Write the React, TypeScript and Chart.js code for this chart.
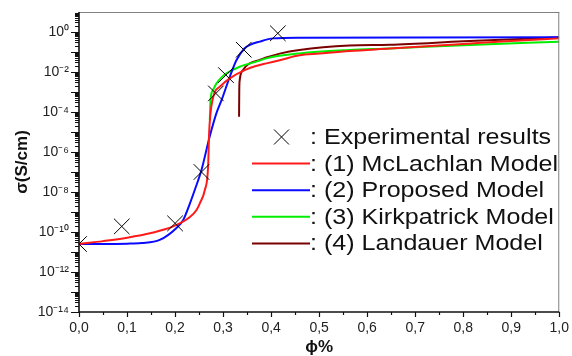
import React, { useEffect, useRef } from 'react';
import { Chart, registerables } from 'chart.js';

Chart.register(...registerables);

// ---- axis ticks ----
const xTickValues = [0, 0.1, 0.2, 0.3, 0.4, 0.5, 0.6, 0.7, 0.8, 0.9, 1.0];
const xTickLabels = ['0,0', '0,1', '0,2', '0,3', '0,4', '0,5', '0,6', '0,7', '0,8', '0,9', '1,0'];
const xMinorTicks = [0.05, 0.15, 0.25, 0.35, 0.45, 0.55, 0.65, 0.75, 0.85, 0.95];
const yTickValues = [1e-14, 1e-12, 1e-10, 1e-8, 1e-6, 1e-4, 1e-2, 1];
const yTickLabels = ['10⁻¹⁴', '10⁻¹²', '10⁻¹⁰', '10⁻⁸', '10⁻⁶', '10⁻⁴', '10⁻²', '10⁰'];

// ---- experimental results ----
const expPhi = [0, 0.089, 0.2, 0.255, 0.285, 0.306, 0.343, 0.414];
const expSigma = [2.5e-11, 1.9e-10, 2.7e-10, 1e-7, 8.5e-4, 7e-3, 0.13, 0.86];

// ---- (1) McLachlan model ----
const mclPhi = [0, 0.05, 0.1, 0.15, 0.196, 0.231, 0.2447, 0.2516, 0.262, 0.2688, 0.2709, 0.2738, 0.278, 0.2827, 0.2931, 0.3139, 0.3486, 0.3763, 0.39, 0.42, 0.459, 0.5, 0.563, 0.647, 0.8, 0.9, 1.0];
const mclSigma = [2.5e-11, 3.5e-11, 5.2e-11, 8.9e-11, 1.9e-10, 5.6e-10, 1.26e-9, 2.7e-9, 1.26e-8, 1.84e-7, 8.6e-6, 8.6e-5, 4e-4, 1e-3, 1.84e-3, 4.8e-3, 1.36e-2, 2.24e-2, 2.7e-2, 4e-2, 6.8e-2, 8.3e-2, 0.112, 0.148, 0.25, 0.355, 0.48];

// ---- (2) Proposed model ----
const propPhi = [0, 0.05, 0.1, 0.13, 0.168, 0.203, 0.217, 0.231, 0.241, 0.255, 0.272, 0.286, 0.297, 0.314, 0.328, 0.345, 0.355, 0.376, 0.404, 0.46, 0.7, 1.0];
const propSigma = [2.5e-11, 2.5e-11, 2.6e-11, 2.8e-11, 4e-11, 1.6e-10, 4e-10, 2.7e-9, 1.26e-8, 1.26e-7, 5.8e-6, 8.6e-5, 4e-4, 5.8e-3, 4e-2, 0.153, 0.22, 0.33, 0.48, 0.52, 0.53, 0.54];

// ---- (3) Kirkpatrick model ----
const kirkPhi = [0.2723, 0.2738, 0.2792, 0.2863, 0.2967, 0.3071, 0.3347, 0.3694, 0.39, 0.459, 0.563, 0.647, 0.8, 1.0];
const kirkSigma = [4e-5, 4e-4, 1.26e-3, 2.7e-3, 5.4e-3, 8.6e-3, 1.84e-2, 3.3e-2, 4.8e-2, 8.5e-2, 0.126, 0.15, 0.22, 0.33];

// ---- (4) Landauer model ----
const landPhi = [0.3333, 0.3337, 0.3347, 0.3416, 0.3555, 0.3763, 0.39, 0.418, 0.459, 0.563, 0.647, 0.8, 1.0];
const landSigma = [5.8e-5, 1.26e-3, 4e-3, 1.26e-2, 2.7e-2, 4e-2, 5.3e-2, 8.3e-2, 0.126, 0.21, 0.23, 0.34, 0.54];

const legendLabels = [': Experimental results', ': (1) McLachlan Model', ': (2) Proposed Model', ': (3) Kirkpatrick Model', ': (4) Landauer Model'];
const seriesColors = ['#000000', '#ff1a1a', '#0a0aff', '#00ee00', '#7a0000'];

const FONT = '"Liberation Sans", Arial, sans-serif';

const pts = (xs: number[], ys: number[]) => xs.map((x, i) => ({ x, y: ys[i] }));

const framePlugin = {
  id: 'framePlugin',
  afterDraw(chart: any) {
    const { ctx, chartArea: a, scales } = chart;
    const xs = scales.x;
    const ys = scales.y;
    ctx.save();
    // top & right frame
    ctx.strokeStyle = '#808080';
    ctx.lineWidth = 1;
    ctx.beginPath();
    ctx.moveTo(a.left, a.top + 0.5);
    ctx.lineTo(a.right, a.top + 0.5);
    ctx.moveTo(a.right - 0.5, a.top);
    ctx.lineTo(a.right - 0.5, a.bottom);
    ctx.stroke();
    // axes lines
    ctx.strokeStyle = '#111';
    ctx.lineWidth = 1.6;
    ctx.beginPath();
    ctx.moveTo(a.left, a.top);
    ctx.lineTo(a.left, a.bottom);
    ctx.lineTo(a.right, a.bottom);
    ctx.stroke();
    // x ticks
    ctx.lineWidth = 1.2;
    ctx.beginPath();
    xTickValues.forEach((v) => {
      const p = Math.round(xs.getPixelForValue(v)) + 0.5;
      ctx.moveTo(p, a.bottom);
      ctx.lineTo(p, a.bottom + 5);
    });
    xMinorTicks.forEach((v) => {
      const p = Math.round(xs.getPixelForValue(v)) + 0.5;
      ctx.moveTo(p, a.bottom);
      ctx.lineTo(p, a.bottom + 3);
    });
    ctx.stroke();
    // y ticks (decades + minor)
    ctx.lineWidth = 1;
    ctx.beginPath();
    for (let e = -14; e <= 0; e++) {
      for (let k = 1; k <= 9; k++) {
        const v = k * Math.pow(10, e);
        const p = Math.round(ys.getPixelForValue(v)) + 0.5;
        const len = k === 1 ? 8 : 4;
        ctx.moveTo(a.left - len, p);
        ctx.lineTo(a.left, p);
      }
    }
    ctx.stroke();

    // legend
    const lx0 = 252;
    const lx1 = 310;
    const ly0 = 137;
    const dy = 26.6;
    legendLabels.forEach((t, i) => {
      const yy = ly0 + i * dy;
      if (i === 0) {
        const cx = 281.5;
        const r = 7.5;
        ctx.strokeStyle = '#000';
        ctx.lineWidth = 1;
        ctx.beginPath();
        ctx.moveTo(cx - r, yy - r);
        ctx.lineTo(cx + r, yy + r);
        ctx.moveTo(cx + r, yy - r);
        ctx.lineTo(cx - r, yy + r);
        ctx.stroke();
      } else {
        ctx.strokeStyle = seriesColors[i];
        ctx.lineWidth = 2;
        ctx.beginPath();
        ctx.moveTo(lx0, yy);
        ctx.lineTo(lx1, yy);
        ctx.stroke();
      }
      ctx.save();
      ctx.translate(lx1, yy);
      ctx.scale(1.14, 1);
      ctx.fillStyle = '#111';
      ctx.font = '22px ' + FONT;
      ctx.textBaseline = 'middle';
      ctx.textAlign = 'left';
      ctx.fillText(t, 0, 1);
      ctx.restore();
    });
    ctx.restore();
  },
};

export default function App() {
  const ref = useRef<HTMLCanvasElement | null>(null);
  useEffect(() => {
    if (!ref.current) return;
    const lineDs = (label: string, xs: number[], ys: number[], color: string) => ({
      label,
      data: pts(xs, ys),
      borderColor: color,
      backgroundColor: color,
      borderWidth: 2,
      pointRadius: 0,
      fill: false,
      cubicInterpolationMode: 'monotone' as const,
    });
    const chart = new Chart(ref.current, {
      type: 'line',
      data: {
        datasets: [
          {
            label: 'Experimental results',
            data: pts(expPhi, expSigma),
            showLine: false,
            pointStyle: 'crossRot',
            pointRadius: 11,
            pointBorderWidth: 1,
            borderColor: '#000',
            backgroundColor: '#000',
            clip: 0,
          } as any,
          lineDs('(1) McLachlan Model', mclPhi, mclSigma, seriesColors[1]),
          lineDs('(2) Proposed Model', propPhi, propSigma, seriesColors[2]),
          lineDs('(3) Kirkpatrick Model', kirkPhi, kirkSigma, seriesColors[3]),
          lineDs('(4) Landauer Model', landPhi, landSigma, seriesColors[4]),
        ],
      },
      options: {
        animation: false,
        responsive: false,
        maintainAspectRatio: false,
        layout: { padding: { top: 12, right: 12, left: 0, bottom: 0 } },
        plugins: { legend: { display: false }, tooltip: { enabled: false } },
        scales: {
          x: {
            type: 'linear',
            min: 0,
            max: 1,
            afterBuildTicks: (s: any) => {
              s.ticks = xTickValues.map((v) => ({ value: v }));
            },
            afterFit: (s: any) => {
              s.height = 44;
            },
            grid: { display: false, drawTicks: true, tickLength: 5 },
            border: { display: false },
            ticks: {
              padding: 3,
              color: '#222',
              font: { family: FONT, size: 14 },
              maxRotation: 0,
              callback: (_v: any, i: number) => xTickLabels[i],
            },
            title: {
              display: true,
              text: 'ϕ%',
              color: '#111',
              font: { family: FONT, size: 17, weight: 'bold', lineHeight: 1 },
              padding: { top: 0, bottom: 0 },
            },
          },
          y: {
            type: 'logarithmic',
            min: 1e-14,
            max: 10,
            afterBuildTicks: (s: any) => {
              s.ticks = yTickValues.map((v) => ({ value: v }));
            },
            afterFit: (s: any) => {
              s.width = 79;
            },
            grid: { display: false, drawTicks: true, tickLength: 8 },
            border: { display: false },
            ticks: {
              padding: 2,
              color: '#222',
              font: { family: FONT, size: 14 },
              callback: (_v: any, i: number) => yTickLabels[i],
            },
            title: {
              display: true,
              text: 'σ(S/cm)',
              color: '#111',
              font: { family: FONT, size: 17, weight: 'bold', lineHeight: 1 },
              padding: { top: 14, bottom: 0 },
            },
          },
        },
      },
      plugins: [framePlugin],
    });
    return () => chart.destroy();
  }, []);
  return (
    <div style={{ position: 'fixed', left: 0, top: 0, width: 572, height: 356, background: '#fff' }}>
      <canvas ref={ref} width={572} height={356} style={{ width: 572, height: 356, display: 'block' }} />
    </div>
  );
}
